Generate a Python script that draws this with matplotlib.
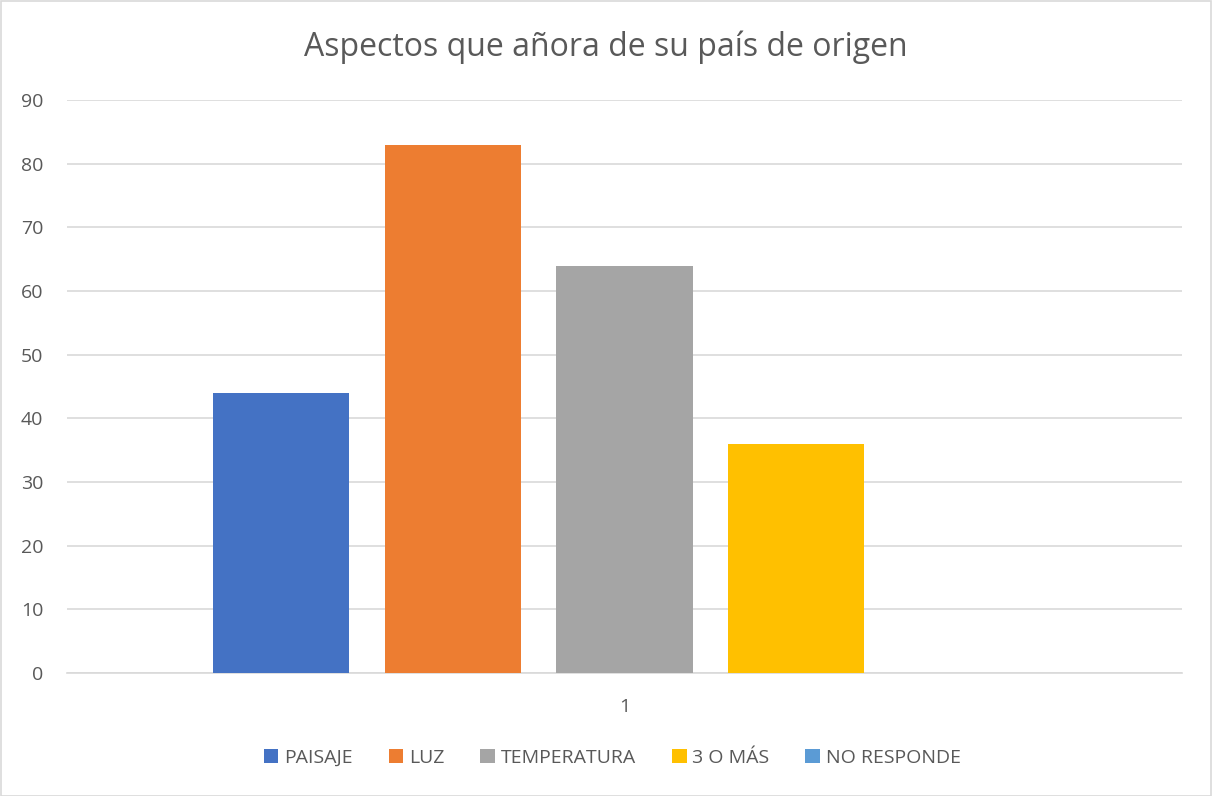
import numpy as np
import matplotlib.pyplot as plt
from matplotlib.patches import Rectangle

categories = ['PAISAJE', 'LUZ', 'TEMPERATURA', '3 O MÁS', 'NO RESPONDE']
values = [44, 83, 64, 36, 0]
colors = ['#4472C4', '#ED7D31', '#A5A5A5', '#FFC000', '#5B9BD5']
yticks = np.arange(0, 91, 10)

text_color = '#595959'
plt.rcParams['font.family'] = ['Open Sans', 'DejaVu Sans']

W, H = 1212, 796
fig = plt.figure(figsize=(W / 100, H / 100), dpi=100)
ax = fig.add_axes([67 / W, (H - 673) / H, (1182 - 67) / W, (673 - 100) / H])

x = np.arange(len(categories))
bar_width = 0.793
for i in range(len(categories)):
    ax.bar(x[i], values[i], width=bar_width, color=colors[i],
           label=categories[i], zorder=3)

ax.set_xlim(-1.247, 4 + 1.247)
ax.set_ylim(0, 90)
ax.set_yticks(yticks)
ax.set_xticks([2])
ax.set_xticklabels(['1'])
ax.grid(axis='y', color='#D9D9D9', linewidth=1.2, zorder=0)
for side in ['top', 'right', 'left']:
    ax.spines[side].set_visible(False)
ax.spines['bottom'].set_color('#D9D9D9')
ax.spines['bottom'].set_linewidth(1.2)
ax.tick_params(axis='both', length=0, colors=text_color, labelsize=14)
ax.tick_params(axis='y', pad=17)
ax.tick_params(axis='x', pad=18)

fig.text(0.5, (H - 47) / H, 'Aspectos que añora de su país de origen',
         ha='center', va='center', fontsize=23, color=text_color)

leg = ax.legend(loc='center', bbox_to_anchor=(0.489, -0.148), ncol=5,
                frameon=False, fontsize=14, handlelength=0.75,
                handleheight=0.75, handletextpad=0.3, columnspacing=1.85)
for t in leg.get_texts():
    t.set_color(text_color)

fig.patches.append(Rectangle((0.5 / W, 0.5 / H), 1 - 1.5 / W, 1 - 1.5 / H,
                             transform=fig.transFigure, fill=False,
                             edgecolor='#D9D9D9', linewidth=1.2))

fig.savefig('out.png', dpi=100)
